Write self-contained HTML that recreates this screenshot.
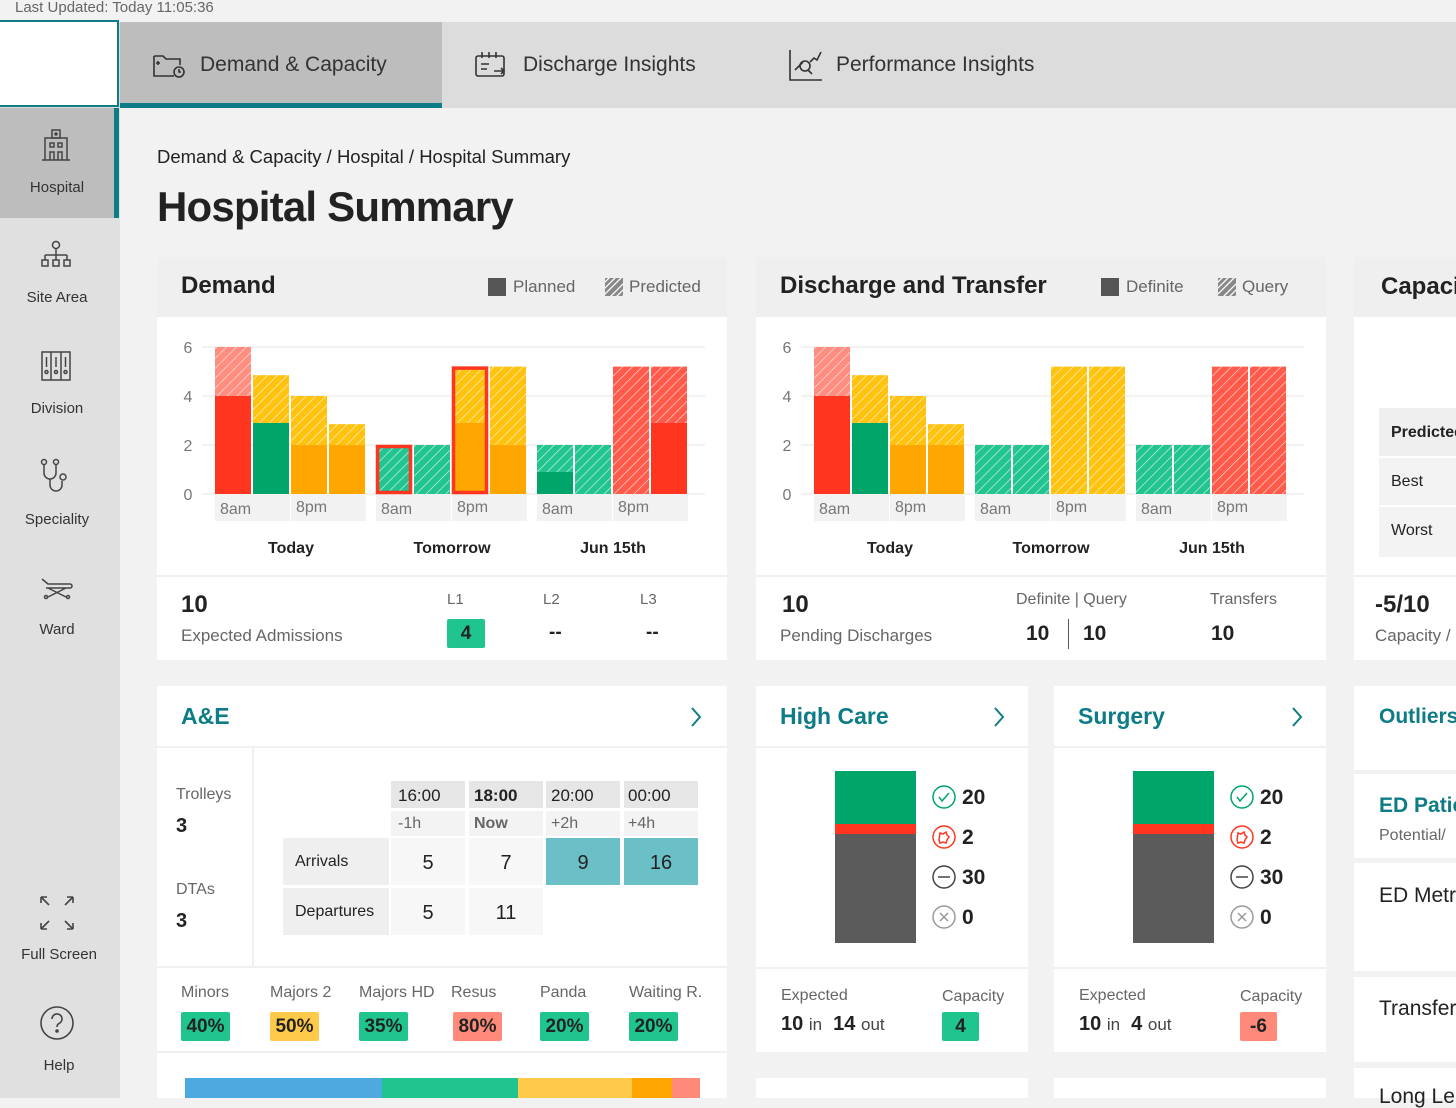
<!DOCTYPE html>
<html><head><meta charset="utf-8">
<style>
*{box-sizing:border-box;margin:0;padding:0}
body{width:1456px;height:1098px;overflow:hidden;background:#f2f2f2;font-family:"Liberation Sans",sans-serif;color:#222;position:relative}
.a{position:absolute}
.t{position:absolute;white-space:nowrap;line-height:1}
.g{color:#666}
.b{font-weight:bold}
.card{position:absolute;background:#fff}
.teal{color:#0e7c86;font-weight:bold;font-size:23px}
.badge{position:absolute;height:29px;border-radius:2px;font-weight:bold;font-size:19px;text-align:center;line-height:29px;color:#222}
.cell{position:absolute;font-size:20px;text-align:center}
</style></head><body>
<div class="t g" style="left:15px;top:0px;font-size:15px">Last Updated: Today 11:05:36</div>

<!-- top nav -->
<div class="a" style="left:0;top:22px;width:1456px;height:86px;background:#dcdcdc"></div>
<div class="a" style="left:0;top:20px;width:119px;height:87px;background:#fff;border:2px solid #0e7c86;border-left:none"></div>
<div class="a" style="left:120px;top:22px;width:322px;height:86px;background:#bdbdbd;border-bottom:5px solid #0e7c86">
 <svg class="a" style="left:32px;top:30px" width="34" height="28" viewBox="0 0 34 28" fill="none" stroke="#333" stroke-width="1.6"><path d="M2 4h9l3 3h14v6M22 24H2V4"/><path d="M6 9v4M4 11h4"/><circle cx="27" cy="20" r="5"/><path d="M27 17v3h2"/></svg>
 <div class="t" style="left:80px;top:32px;font-size:21px;color:#333">Demand &amp; Capacity</div>
</div>
<div class="a" style="left:442px;top:22px;width:320px;height:86px">
 <svg class="a" style="left:32px;top:28px" width="34" height="30" viewBox="0 0 34 30" fill="none" stroke="#333" stroke-width="1.6"><rect x="2" y="6" width="28" height="20" rx="2"/><path d="M8 2v6M15 2v6M22 2v6M7 14h8M7 19h6M20 21h10M27 18l3 3-3 3"/></svg>
 <div class="t" style="left:81px;top:32px;font-size:21px;color:#333">Discharge Insights</div>
</div>
<div class="a" style="left:762px;top:22px;width:320px;height:86px">
 <svg class="a" style="left:26px;top:26px" width="36" height="34" viewBox="0 0 36 34" fill="none" stroke="#333" stroke-width="1.6"><path d="M2 2v30h32"/><circle cx="17" cy="18" r="5"/><path d="M20 22l4 4M7 22l8-8M22 14l4-4 3 2 4-8"/></svg>
 <div class="t" style="left:74px;top:32px;font-size:21px;color:#333">Performance Insights</div>
</div>

<!-- sidebar -->
<div class="a" style="left:0;top:108px;width:120px;height:990px;background:#e0e0e0"></div>
<div class="a" style="left:0;top:108px;width:119px;height:110px;background:#bdbdbd;border-right:5px solid #0e7c86">
 <svg class="a" style="left:40px;top:20px" width="32" height="34" viewBox="0 0 32 34" fill="none" stroke="#444" stroke-width="1.5"><rect x="12" y="2" width="8" height="8"/><path d="M16 4v4M14 6h4"/><path d="M5 32V10h22v22M2 32h28"/><rect x="10" y="15" width="4" height="4"/><rect x="18" y="15" width="4" height="4"/><path d="M10 32v-8h4v8M18 32v-8h4v8"/></svg>
 <div class="t" style="left:0;width:114px;text-align:center;top:72px;font-size:15px;color:#333">Hospital</div>
</div>
<div class="a" style="left:0;top:218px;width:114px;height:110px">
 <svg class="a" style="left:40px;top:22px" width="32" height="30" viewBox="0 0 32 30" fill="none" stroke="#444" stroke-width="1.5"><circle cx="16" cy="5" r="3.5"/><path d="M16 9v6M5 15h22M5 15v5M16 15v5M27 15v5"/><rect x="2" y="20" width="6" height="6"/><rect x="13" y="20" width="6" height="6"/><rect x="24" y="20" width="6" height="6"/></svg>
 <div class="t" style="left:0;width:114px;text-align:center;top:72px;font-size:15px;color:#333">Site Area</div>
</div>
<div class="a" style="left:0;top:328px;width:114px;height:110px">
 <svg class="a" style="left:40px;top:22px" width="32" height="32" viewBox="0 0 32 32" fill="none" stroke="#444" stroke-width="1.5"><rect x="2" y="2" width="28" height="28"/><path d="M11 2v28M21 2v28M6.5 7v10M16 7v10M25.5 7v10"/><circle cx="6.5" cy="22" r="1.5"/><circle cx="16" cy="22" r="1.5"/><circle cx="25.5" cy="22" r="1.5"/></svg>
 <div class="t" style="left:0;width:114px;text-align:center;top:73px;font-size:15px;color:#333">Division</div>
</div>
<div class="a" style="left:0;top:438px;width:114px;height:110px">
 <svg class="a" style="left:40px;top:20px" width="34" height="36" viewBox="0 0 34 36" fill="none" stroke="#444" stroke-width="1.5"><circle cx="4" cy="4" r="2.5"/><circle cx="16" cy="4" r="2.5"/><path d="M4 7v8a6 6 0 0 0 12 0V7M10 21v6a6 6 0 0 0 12 0v-4"/><circle cx="23" cy="19" r="3"/></svg>
 <div class="t" style="left:0;width:114px;text-align:center;top:74px;font-size:15px;color:#333">Speciality</div>
</div>
<div class="a" style="left:0;top:548px;width:114px;height:110px">
 <svg class="a" style="left:40px;top:28px" width="34" height="24" viewBox="0 0 34 24" fill="none" stroke="#444" stroke-width="1.5"><path d="M2 3l6 5h22a2 2 0 0 1 0 4H6M8 12l18 9M26 12L8 21"/><circle cx="6" cy="21" r="1.5"/><circle cx="28" cy="21" r="1.5"/></svg>
 <div class="t" style="left:0;width:114px;text-align:center;top:74px;font-size:15px;color:#333">Ward</div>
</div>
<div class="a" style="left:0;top:880px;width:114px;height:100px">
 <svg class="a" style="left:39px;top:15px" width="36" height="36" viewBox="0 0 36 36" fill="none" stroke="#444" stroke-width="1.6"><path d="M2 2l8 8M2 2h6M2 2v6M34 2l-8 8M34 2h-6M34 2v6M2 34l8-8M2 34h6M2 34v-6M34 34l-8-8M34 34h-6M34 34v-6"/></svg>
 <div class="t" style="left:0;width:118px;text-align:center;top:67px;font-size:15px;color:#333">Full Screen</div>
</div>
<div class="a" style="left:0;top:1000px;width:114px;height:98px">
 <svg class="a" style="left:39px;top:5px" width="36" height="36" viewBox="0 0 36 36" fill="none" stroke="#444" stroke-width="1.6"><circle cx="18" cy="18" r="16"/><path d="M13 14a5 5 0 1 1 7 4.5c-1.5.8-2 1.8-2 3.5"/><circle cx="18" cy="26" r="1" fill="#444"/></svg>
 <div class="t" style="left:0;width:118px;text-align:center;top:58px;font-size:15px;color:#333">Help</div>
</div>

<!-- header -->
<div class="t" style="left:157px;top:148px;font-size:18.5px;color:#222">Demand &amp; Capacity / Hospital / Hospital Summary</div>
<div class="t b" style="left:157px;top:186px;font-size:42px;letter-spacing:-0.8px;color:#222">Hospital Summary</div>

<!-- Demand card -->
<div class="card" style="left:157px;top:257px;width:570px;height:403px">
 <div class="a" style="left:0;top:0;width:570px;height:60px;background:#efefef"></div>
 <div class="t b" style="left:24px;top:17px;font-size:24px">Demand</div>
 <div class="a" style="left:331px;top:21px;width:18px;height:18px;background:#555"></div>
 <div class="t g" style="left:356px;top:21px;font-size:17px">Planned</div>
 <svg class="a" style="left:448px;top:21px" width="18" height="18"><rect width="18" height="18" fill="#888"/><path d="M-2 6l8-8M-2 12l14-14M-2 18l20-20M4 20l16-16M10 20l10-10M16 20l4-4" stroke="#fff" stroke-width="1.3"/></svg>
 <div class="t g" style="left:472px;top:21px;font-size:17px">Predicted</div>
 <svg id="demandChart" class="a" style="left:0;top:60px" width="570" height="258"></svg>
 <div class="a" style="left:0;top:318px;width:570px;height:2px;background:#efefef"></div>
 <div class="t b" style="left:24px;top:336px;font-size:24px">10</div>
 <div class="t g" style="left:24px;top:370px;font-size:17px">Expected Admissions</div>
 <div class="t g" style="left:290px;top:335px;font-size:15px">L1</div>
 <div class="badge" style="left:290px;top:362px;width:38px;background:#20c48f">4</div>
 <div class="t g" style="left:386px;top:335px;font-size:15px">L2</div>
 <div class="t b" style="left:392px;top:366px;font-size:19px">--</div>
 <div class="t g" style="left:483px;top:335px;font-size:15px">L3</div>
 <div class="t b" style="left:489px;top:366px;font-size:19px">--</div>
</div>

<!-- Discharge card -->
<div class="card" style="left:756px;top:257px;width:570px;height:403px">
 <div class="a" style="left:0;top:0;width:570px;height:60px;background:#efefef"></div>
 <div class="t b" style="left:24px;top:17px;font-size:24px">Discharge and Transfer</div>
 <div class="a" style="left:345px;top:21px;width:18px;height:18px;background:#555"></div>
 <div class="t g" style="left:370px;top:21px;font-size:17px">Definite</div>
 <svg class="a" style="left:462px;top:21px" width="18" height="18"><rect width="18" height="18" fill="#888"/><path d="M-2 6l8-8M-2 12l14-14M-2 18l20-20M4 20l16-16M10 20l10-10M16 20l4-4" stroke="#fff" stroke-width="1.3"/></svg>
 <div class="t g" style="left:486px;top:21px;font-size:17px">Query</div>
 <svg id="dischargeChart" class="a" style="left:0;top:60px" width="570" height="258"></svg>
 <div class="a" style="left:0;top:318px;width:570px;height:2px;background:#efefef"></div>
 <div class="t b" style="left:26px;top:336px;font-size:24px">10</div>
 <div class="t g" style="left:24px;top:370px;font-size:17px">Pending Discharges</div>
 <div class="t g" style="left:260px;top:335px;font-size:16px">Definite | Query</div>
 <div class="t b" style="left:270px;top:366px;font-size:21px">10</div>
 <div class="a" style="left:312px;top:362px;width:1px;height:30px;background:#555"></div>
 <div class="t b" style="left:327px;top:366px;font-size:21px">10</div>
 <div class="t g" style="left:454px;top:335px;font-size:16px">Transfers</div>
 <div class="t b" style="left:455px;top:366px;font-size:21px">10</div>
</div>

<!-- Capacity card -->
<div class="card" style="left:1354px;top:257px;width:102px;height:403px">
 <div class="a" style="left:0;top:0;width:102px;height:60px;background:#efefef"></div>
 <div class="t b" style="left:27px;top:18px;font-size:24px">Capacity</div>
 <div class="a" style="left:25px;top:151px;width:77px;height:149px;background:#f3f3f3"></div>
 <div class="a" style="left:25px;top:151px;width:77px;height:48px;background:#efefef"></div>
 <div class="a" style="left:25px;top:199px;width:77px;height:2px;background:#fff"></div>
 <div class="a" style="left:25px;top:248px;width:77px;height:2px;background:#fff"></div>
 <div class="t b" style="left:37px;top:168px;font-size:16px">Predicted</div>
 <div class="t" style="left:37px;top:217px;font-size:16px">Best</div>
 <div class="t" style="left:37px;top:266px;font-size:16px">Worst</div>
 <div class="a" style="left:0;top:318px;width:102px;height:2px;background:#efefef"></div>
 <div class="t b" style="left:21px;top:336px;font-size:24px">-5/10</div>
 <div class="t g" style="left:21px;top:370px;font-size:17px">Capacity / </div>
</div>

<!-- A&E card -->
<div class="card" style="left:157px;top:686px;width:570px;height:412px">
 <div class="t teal" style="left:24px;top:19px">A&amp;E</div>
 <svg class="a" style="left:532px;top:20px" width="14" height="22"><path d="M3 2l8 9-8 9" fill="none" stroke="#0e7c86" stroke-width="2"/></svg>
 <div class="a" style="left:0;top:60px;width:570px;height:2px;background:#f0f0f0"></div>
 <div class="a" style="left:95px;top:62px;width:2px;height:218px;background:#f0f0f0"></div>
 <div class="t g" style="left:19px;top:101px;font-size:16px">Trolleys</div>
 <div class="t b" style="left:19px;top:130px;font-size:20px">3</div>
 <div class="t g" style="left:19px;top:196px;font-size:16px">DTAs</div>
 <div class="t b" style="left:19px;top:225px;font-size:20px">3</div>
 <!-- table -->
 <div class="a" style="left:234px;top:95px;width:74px;height:27px;background:#e6e6e6"></div>
 <div class="a" style="left:312px;top:95px;width:74px;height:27px;background:#e6e6e6"></div>
 <div class="a" style="left:389px;top:95px;width:74px;height:27px;background:#e6e6e6"></div>
 <div class="a" style="left:467px;top:95px;width:74px;height:27px;background:#e6e6e6"></div>
 <div class="t" style="left:241px;top:101px;font-size:17px">16:00</div>
 <div class="t b" style="left:317px;top:101px;font-size:17px">18:00</div>
 <div class="t" style="left:394px;top:101px;font-size:17px">20:00</div>
 <div class="t" style="left:471px;top:101px;font-size:17px">00:00</div>
 <div class="a" style="left:234px;top:125px;width:74px;height:25px;background:#f3f3f3"></div>
 <div class="a" style="left:312px;top:125px;width:74px;height:25px;background:#f3f3f3"></div>
 <div class="a" style="left:389px;top:125px;width:74px;height:25px;background:#f3f3f3"></div>
 <div class="a" style="left:467px;top:125px;width:74px;height:25px;background:#f3f3f3"></div>
 <div class="t g" style="left:241px;top:130px;font-size:16px">-1h</div>
 <div class="t b g" style="left:317px;top:130px;font-size:16px">Now</div>
 <div class="t g" style="left:394px;top:130px;font-size:16px">+2h</div>
 <div class="t g" style="left:471px;top:130px;font-size:16px">+4h</div>
 <div class="a" style="left:126px;top:152px;width:106px;height:47px;background:#efefef"></div>
 <div class="a" style="left:126px;top:202px;width:106px;height:47px;background:#efefef"></div>
 <div class="t" style="left:138px;top:168px;font-size:16px">Arrivals</div>
 <div class="t" style="left:138px;top:218px;font-size:16px">Departures</div>
 <div class="a" style="left:234px;top:152px;width:74px;height:47px;background:#f7f7f7"></div>
 <div class="a" style="left:312px;top:152px;width:74px;height:47px;background:#f7f7f7"></div>
 <div class="a" style="left:389px;top:152px;width:74px;height:47px;background:#6bbfc6"></div>
 <div class="a" style="left:467px;top:152px;width:74px;height:47px;background:#6bbfc6"></div>
 <div class="a" style="left:234px;top:202px;width:74px;height:47px;background:#f7f7f7"></div>
 <div class="a" style="left:312px;top:202px;width:74px;height:47px;background:#f7f7f7"></div>
 <div class="cell" style="left:234px;width:74px;top:166px">5</div>
 <div class="cell" style="left:312px;width:74px;top:166px">7</div>
 <div class="cell" style="left:389px;width:74px;top:166px">9</div>
 <div class="cell" style="left:467px;width:74px;top:166px">16</div>
 <div class="cell" style="left:234px;width:74px;top:216px">5</div>
 <div class="cell" style="left:312px;width:74px;top:216px">11</div>
 <div class="a" style="left:0;top:280px;width:570px;height:2px;background:#f0f0f0"></div>
 <div class="t g" style="left:24px;top:299px;font-size:16px">Minors</div>
 <div class="t g" style="left:113px;top:299px;font-size:16px">Majors 2</div>
 <div class="t g" style="left:202px;top:299px;font-size:16px">Majors HD</div>
 <div class="t g" style="left:294px;top:299px;font-size:16px">Resus</div>
 <div class="t g" style="left:383px;top:299px;font-size:16px">Panda</div>
 <div class="t g" style="left:472px;top:299px;font-size:16px">Waiting R.</div>
 <div class="badge" style="left:24px;top:326px;width:49px;background:#20c48f">40%</div>
 <div class="badge" style="left:113px;top:326px;width:49px;background:#ffc94a">50%</div>
 <div class="badge" style="left:202px;top:326px;width:49px;background:#20c48f">35%</div>
 <div class="badge" style="left:296px;top:326px;width:49px;background:#ff8a7a">80%</div>
 <div class="badge" style="left:383px;top:326px;width:49px;background:#20c48f">20%</div>
 <div class="badge" style="left:472px;top:326px;width:49px;background:#20c48f">20%</div>
 <div class="a" style="left:0;top:365px;width:570px;height:2px;background:#f0f0f0"></div>
 <div class="a" style="left:28px;top:392px;width:197px;height:20px;background:#4ea9e0"></div>
 <div class="a" style="left:225px;top:392px;width:136px;height:20px;background:#20c48f"></div>
 <div class="a" style="left:361px;top:392px;width:114px;height:20px;background:#ffc94a"></div>
 <div class="a" style="left:475px;top:392px;width:40px;height:20px;background:#ffa600"></div>
 <div class="a" style="left:515px;top:392px;width:28px;height:20px;background:#ff8a7a"></div>
</div>

<!-- High Care / Surgery -->
<div class="card" style="left:756px;top:686px;width:272px;height:366px">
 <div class="t teal" style="left:24px;top:19px">High Care</div>
 <svg class="a" style="left:236px;top:20px" width="14" height="22"><path d="M3 2l8 9-8 9" fill="none" stroke="#0e7c86" stroke-width="2"/></svg>
 <div class="a" style="left:0;top:60px;width:272px;height:2px;background:#f0f0f0"></div>
 <div class="a" style="left:79px;top:85px;width:81px;height:53px;background:#00a56a"></div>
 <div class="a" style="left:79px;top:138px;width:81px;height:10px;background:#ff3520"></div>
 <div class="a" style="left:79px;top:148px;width:81px;height:109px;background:#5b5b5b"></div>
 <svg class="a" style="left:175px;top:99px" width="26" height="146" fill="none" stroke-width="1.5">
  <circle cx="13" cy="12" r="11" stroke="#00a56a"/><path d="M8 12l3 4 7-8" stroke="#00a56a"/>
  <circle cx="13" cy="52" r="11" stroke="#ff3520"/><path d="M9 48l3 1 3-2 1 3 2 2-2 3-1 3-3-1-3 1-1-3z" stroke="#ff3520"/>
  <circle cx="13" cy="92" r="11" stroke="#444"/><path d="M7 92h12" stroke="#444"/>
  <circle cx="13" cy="132" r="11" stroke="#999"/><path d="M9 128l8 8M17 128l-8 8" stroke="#999"/>
 </svg>
 <div class="t b" style="left:206px;top:101px;font-size:21px">20</div>
 <div class="t b" style="left:206px;top:141px;font-size:21px">2</div>
 <div class="t b" style="left:206px;top:181px;font-size:21px">30</div>
 <div class="t b" style="left:206px;top:221px;font-size:21px">0</div>
 <div class="a" style="left:0;top:281px;width:272px;height:2px;background:#f0f0f0"></div>
 <div class="t g" style="left:25px;top:302px;font-size:16px">Expected</div>
 <div class="t" style="left:25px;top:328px;font-size:20px"><b>10</b> <span style="font-size:17px;color:#444">in</span>&nbsp; <b>14</b> <span style="font-size:17px;color:#444">out</span></div>
 <div class="t g" style="left:186px;top:303px;font-size:16px">Capacity</div>
 <div class="badge" style="left:186px;top:326px;width:37px;background:#20c48f">4</div>
</div>
<div class="card" style="left:1054px;top:686px;width:272px;height:366px">
 <div class="t teal" style="left:24px;top:19px">Surgery</div>
 <svg class="a" style="left:236px;top:20px" width="14" height="22"><path d="M3 2l8 9-8 9" fill="none" stroke="#0e7c86" stroke-width="2"/></svg>
 <div class="a" style="left:0;top:60px;width:272px;height:2px;background:#f0f0f0"></div>
 <div class="a" style="left:79px;top:85px;width:81px;height:53px;background:#00a56a"></div>
 <div class="a" style="left:79px;top:138px;width:81px;height:10px;background:#ff3520"></div>
 <div class="a" style="left:79px;top:148px;width:81px;height:109px;background:#5b5b5b"></div>
 <svg class="a" style="left:175px;top:99px" width="26" height="146" fill="none" stroke-width="1.5">
  <circle cx="13" cy="12" r="11" stroke="#00a56a"/><path d="M8 12l3 4 7-8" stroke="#00a56a"/>
  <circle cx="13" cy="52" r="11" stroke="#ff3520"/><path d="M9 48l3 1 3-2 1 3 2 2-2 3-1 3-3-1-3 1-1-3z" stroke="#ff3520"/>
  <circle cx="13" cy="92" r="11" stroke="#444"/><path d="M7 92h12" stroke="#444"/>
  <circle cx="13" cy="132" r="11" stroke="#999"/><path d="M9 128l8 8M17 128l-8 8" stroke="#999"/>
 </svg>
 <div class="t b" style="left:206px;top:101px;font-size:21px">20</div>
 <div class="t b" style="left:206px;top:141px;font-size:21px">2</div>
 <div class="t b" style="left:206px;top:181px;font-size:21px">30</div>
 <div class="t b" style="left:206px;top:221px;font-size:21px">0</div>
 <div class="a" style="left:0;top:281px;width:272px;height:2px;background:#f0f0f0"></div>
 <div class="t g" style="left:25px;top:302px;font-size:16px">Expected</div>
 <div class="t" style="left:25px;top:328px;font-size:20px"><b>10</b> <span style="font-size:17px;color:#444">in</span>&nbsp; <b>4</b> <span style="font-size:17px;color:#444">out</span></div>
 <div class="t g" style="left:186px;top:303px;font-size:16px">Capacity</div>
 <div class="badge" style="left:186px;top:326px;width:37px;background:#ff8a7a">-6</div>
</div>
<div class="card" style="left:756px;top:1078px;width:272px;height:20px"></div>
<div class="card" style="left:1054px;top:1078px;width:272px;height:20px"></div>

<!-- right column -->
<div class="card" style="left:1354px;top:686px;width:102px;height:84px"><div class="t teal" style="left:25px;top:20px;font-size:21px">Outliers</div></div>
<div class="card" style="left:1354px;top:774px;width:102px;height:84px"><div class="t teal" style="left:25px;top:21px;font-size:21px">ED Patients</div><div class="t g" style="left:25px;top:54px;font-size:16px">Potential/ </div></div>
<div class="card" style="left:1354px;top:863px;width:102px;height:108px"><div class="t" style="left:25px;top:22px;font-size:21px">ED Metrics</div></div>
<div class="card" style="left:1354px;top:977px;width:102px;height:85px"><div class="t" style="left:25px;top:21px;font-size:21px">Transfers</div></div>
<div class="card" style="left:1354px;top:1068px;width:102px;height:30px"><div class="t" style="left:25px;top:18px;font-size:21px">Long Length</div></div>

<script>
// Demand chart data
const periods = ["Today","Tomorrow","Jun 15th"];
const timeLabels = ["8am","8pm"];
const yTicks = [0,2,4,6];
const demandSolid = [4,2.9,2,2,0,0,2.9,2,0.9,0,0,2.9];
const demandTotal = [6,4.85,4,2.85,2,2,5.2,5.2,2,2,5.2,5.2];
const demandSolidColor = ["red","green","orange","orange","green","green","orange","orange","green","green","red","red"];
const demandHatchColor = ["pink","yellow","yellow","yellow","green","green","yellow","yellow","green","green","red","red"];
const demandHighlight = [0,0,0,0,1,0,1,0,0,0,0,0];
// Discharge chart data
const dischargeSolid = [4,2.9,2,2,0,0,0,0,0,0,0,0];
const dischargeTotal = [6,4.85,4,2.85,2,2,5.2,5.2,2,2,5.2,5.2];
const dischargeSolidColor = ["red","green","orange","orange","green","green","orange","orange","green","green","red","red"];
const dischargeHatchColor = ["pink","yellow","yellow","yellow","green","green","yellow","yellow","green","green","red","red"];
const dischargeHighlight = [0,0,0,0,0,0,0,0,0,0,0,0];

const SOLID = {red:"#ff3520",green:"#00a56a",orange:"#ffa600"};
const HATCH = {pink:"#ff8d80",yellow:"#ffc20e",green:"#22c48f",red:"#ff5a4a"};
const NS = "http://www.w3.org/2000/svg";
function mk(tag, attrs, parent){const e=document.createElementNS(NS,tag);for(const k in attrs)e.setAttribute(k,attrs[k]);parent.appendChild(e);return e;}

function drawChart(id, solid, total, sc, hc, hl, prefix){
  const svg=document.getElementById(id);
  const y0=177, unit=24.5, x0=58, barStep=38, barW=36, groupStep=161;
  const yS=v=>y0-v*unit;
  const xS=i=>x0+Math.floor(i/4)*groupStep+(i%4)*barStep;
  const defs=mk("defs",{},svg);
  for(const k in HATCH){
    const p=mk("pattern",{id:prefix+"h-"+k,width:7,height:7,patternUnits:"userSpaceOnUse",patternTransform:"rotate(45)"},defs);
    mk("rect",{width:7,height:7,fill:HATCH[k]},p);
    mk("line",{x1:0,y1:0,x2:0,y2:7,stroke:"rgba(255,255,255,0.75)","stroke-width":1.4},p);
  }
  yTicks.forEach(t=>{
    const gl=mk("line",{x1:45,x2:548,y1:yS(t),y2:yS(t),stroke:"#eeeeee","stroke-width":1.5},svg);
    
    
    const tl=mk("text",{x:31,y:yS(t)+6,"font-size":16,fill:"#777","text-anchor":"middle"},svg);
    tl.textContent=t;
    
    
  });
  periods.forEach((p,g)=>{
    timeLabels.forEach((lab,j)=>{
      const bx=x0+g*groupStep+j*76;
      const r=mk("rect",{x:bx,y:y0+1,width:75,height:26,fill:"#f2f2f2"},svg);
      
      
      const tx=mk("text",{x:bx+5,y:y0+(j?18:20),"font-size":16,fill:"#777"},svg);
      tx.textContent=lab;
      
      
    });
    const gt=mk("text",{x:x0+g*groupStep+76,y:236,"font-size":16,"font-weight":"bold",fill:"#222","text-anchor":"middle"},svg);
    gt.textContent=p;
    
    
  });
  total.forEach((tv,i)=>{
    const x=xS(i);
    const hr=mk("rect",{x:x,y:yS(tv),width:barW,height:yS(solid[i])-yS(tv),fill:"url(#"+prefix+"h-"+hc[i]+")"},svg);
    
    
    if(solid[i]>0){
      const sr=mk("rect",{x:x,y:yS(solid[i]),width:barW,height:y0-yS(solid[i]),fill:SOLID[sc[i]]},svg);
      
      
    }
    if(hl[i]){
      const h=mk("rect",{x:x+1.5,y:yS(tv)+1.5,width:barW-3,height:y0-yS(tv)-3,fill:"none",stroke:"#ff3520","stroke-width":3.5},svg);
      
      
    }
  });
}
drawChart("demandChart",demandSolid,demandTotal,demandSolidColor,demandHatchColor,demandHighlight,"d");
drawChart("dischargeChart",dischargeSolid,dischargeTotal,dischargeSolidColor,dischargeHatchColor,dischargeHighlight,"q");
</script>
</body></html>
